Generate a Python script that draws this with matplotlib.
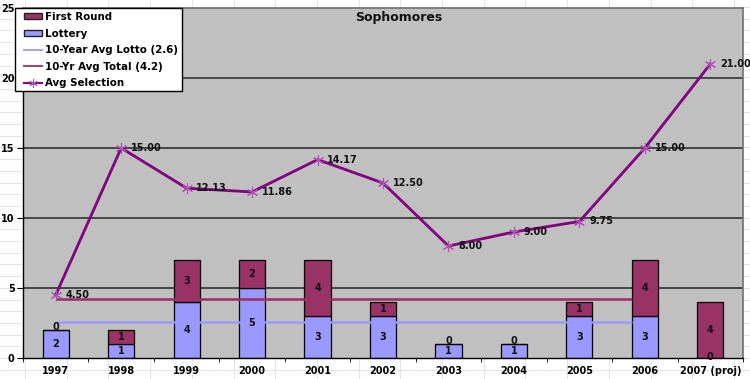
import matplotlib
matplotlib.use("Agg")
import matplotlib.pyplot as plt
from matplotlib.lines import Line2D
import numpy as np

# --- data ---
years = ["1997", "1998", "1999", "2000", "2001", "2002", "2003",
         "2004", "2005", "2006", "2007 (proj)"]
lottery = [2, 1, 4, 5, 3, 3, 1, 1, 3, 3, 0]
first_round = [0, 1, 3, 2, 4, 1, 0, 0, 1, 4, 4]
avg_selection = [4.50, 15.00, 12.13, 11.86, 14.17, 12.50, 8.00, 9.00, 9.75, 15.00, 21.00]
avg_lotto = 2.6     # 10-year average, 1997-2006
avg_total = 4.2

LOTTO_C = "#9999FF"
FIRST_C = "#993366"
AVG_C = "#800080"
PLOT_BG = "#C0C0C0"

W, H = 750, 379
fig = plt.figure(figsize=(W / 100, H / 100), dpi=100)
fig.patch.set_facecolor("white")

# spreadsheet cell grid behind the chart
for xp in np.arange(25, W, 41.7):
    fig.add_artist(Line2D([xp / W, xp / W], [0, 1], color="#E0E5EE", lw=0.8, zorder=-5))
for yp in np.arange(7, H, 11.7):
    fig.add_artist(Line2D([0, 1], [1 - yp / H, 1 - yp / H], color="#E0E5EE", lw=0.8, zorder=-5))

ax = fig.add_axes([23 / W, 21 / H, 720 / W, 350 / H])
ax.set_facecolor(PLOT_BG)

x = np.arange(len(years))
bw = 0.4
ax.bar(x, lottery, bw, color=LOTTO_C, edgecolor="black", lw=0.9, zorder=2, label="Lottery")
ax.bar(x, first_round, bw, bottom=lottery, color=FIRST_C, edgecolor="black", lw=0.9,
       zorder=2, label="First Round")

n10 = 10
ax.hlines(avg_lotto, 0, n10 - 1 - bw / 2, color=LOTTO_C, lw=1.8, zorder=3)
ax.hlines(avg_total, 0, n10 - 1 - bw / 2, color=FIRST_C, lw=1.9, zorder=3)

ax.plot(x, avg_selection, color=AVG_C, lw=2.0, zorder=4)
ax.plot(x, avg_selection, ls="none", marker=(6, 2, 0), ms=8, mew=0.8,
        mec="#B050B0", zorder=5)

lbl = dict(fontsize=7, fontweight="bold", color="#111111", zorder=6)
for i, (lo, fr) in enumerate(zip(lottery, first_round)):
    ly = lo / 2 if lo else 0.08
    ax.text(i, ly, str(lo), ha="center", va="center", **lbl)
    fy = lo + fr / 2 if fr else lo + 0.2
    ax.text(i, fy, str(fr), ha="center", va="center", **lbl)
for i, v in enumerate(avg_selection):
    ax.annotate(f"{v:.2f}", (i, v), xytext=(7, 0), textcoords="offset points",
                ha="left", va="center", **lbl)

ax.set_xlim(-0.5, len(years) - 0.5)
ax.set_ylim(0, 25)
ax.set_yticks(range(0, 26, 5))
ax.set_yticklabels([str(v) for v in range(0, 26, 5)], fontsize=7, fontweight="bold")
ax.set_xticks(x)
ax.set_xticklabels(years, fontsize=7, fontweight="bold")
ax.set_xticks(np.arange(-0.5, len(years), 1), minor=True)
ax.tick_params(axis="x", which="major", length=0, pad=6)
ax.tick_params(axis="x", which="minor", length=3, direction="out", color="black")
ax.tick_params(axis="y", length=4, direction="out", pad=2, color="black")
for yv in (5, 10, 15, 20):
    ax.axhline(yv, color="#303030", lw=1.2, zorder=1)
for s in ("left", "bottom"):
    ax.spines[s].set_color("black")
    ax.spines[s].set_linewidth(1.0)
for s in ("top", "right"):
    ax.spines[s].set_color("#707070")
    ax.spines[s].set_linewidth(1.2)

fig.text(399 / W, 1 - 18 / H, "Sophomores", ha="center", va="center",
         fontsize=9, fontweight="bold", color="#111111")

# legend: separate white box, entries placed inside it
box = plt.Rectangle((15 / W, 1 - 91 / H), 167 / W, 83 / H, transform=fig.transFigure,
                    facecolor="white", edgecolor="black", lw=1.0, zorder=9)
fig.add_artist(box)
handles = [
    plt.Rectangle((0, 0), 1, 1, facecolor=FIRST_C, edgecolor="#222222", lw=1.0),
    plt.Rectangle((0, 0), 1, 1, facecolor=LOTTO_C, edgecolor="#222222", lw=1.0),
    Line2D([], [], color=LOTTO_C, lw=1.3),
    Line2D([], [], color=FIRST_C, lw=1.3),
    Line2D([], [], color=AVG_C, lw=1.5, marker=(6, 2, 0), ms=6, mec="#B050B0", mew=0.7),
]
labels = ["First Round", "Lottery", "10-Year Avg Lotto (2.6)",
          "10-Yr Avg Total (4.2)", "Avg Selection"]
leg = fig.legend(handles, labels, loc="upper left",
                 bbox_to_anchor=(24 / W, 1 - 12 / H), bbox_transform=fig.transFigure,
                 borderaxespad=0, frameon=False,
                 prop={"size": 7.4, "weight": "bold"}, handlelength=1.75,
                 handleheight=0.55, handletextpad=0.3, labelspacing=0.64,
                 borderpad=0.0)
leg.set_zorder(10)

fig.savefig("out.png", dpi=100)
